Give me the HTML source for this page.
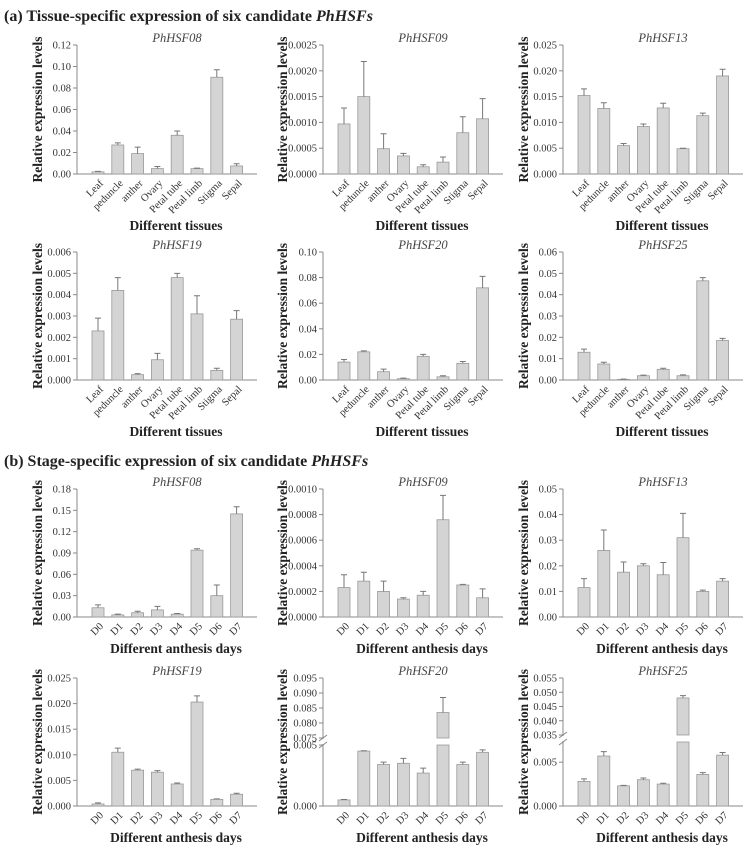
<!DOCTYPE html>
<html><head><meta charset="utf-8">
<style>
html,body{margin:0;padding:0;background:#fff;}
svg{display:block;font-family:"Liberation Serif",serif;}
.tk{font-size:10.5px;fill:#333;}
.tt{font-size:12.5px;font-style:italic;fill:#444;}
.ax{font-size:13.5px;font-weight:bold;fill:#222;}
.hd{font-size:16px;font-weight:bold;fill:#222;}
</style></head>
<body>
<svg id="fig" width="753" height="846" viewBox="0 0 753 846" xmlns="http://www.w3.org/2000/svg">
<text class="hd" x="4" y="21">(a) Tissue-specific expression of six candidate <tspan font-style="italic">PhHSFs</tspan></text>
<text class="hd" x="4" y="466">(b) Stage-specific expression of six candidate <tspan font-style="italic">PhHSFs</tspan></text>
</svg>
<script>
const tissues=["Leaf","peduncle","anther","Ovary","Petal tube","Petal limb","Stigma","Sepal"];
const days=["D0","D1","D2","D3","D4","D5","D6","D7"];
// Tissue panels
const t08Vals=[0.002,0.027,0.019,0.005,0.036,0.005,0.090,0.0075];
const t08Errs=[0.0005,0.002,0.006,0.002,0.004,0.0005,0.007,0.002];
const t08Ticks=[0,0.02,0.04,0.06,0.08,0.10,0.12];
const t09Vals=[0.00097,0.0015,0.00049,0.00035,0.00014,0.00023,0.0008,0.00107];
const t09Errs=[0.00031,0.00068,0.00029,0.00005,0.00004,0.0001,0.00031,0.00039];
const t09Ticks=[0,0.0005,0.0010,0.0015,0.0020,0.0025];
const t13Vals=[0.0152,0.0127,0.0055,0.0092,0.0128,0.0049,0.0113,0.019];
const t13Errs=[0.0013,0.0011,0.0004,0.0005,0.0009,0.0001,0.0005,0.0013];
const t13Ticks=[0,0.005,0.010,0.015,0.020,0.025];
const t19Vals=[0.0023,0.0042,0.00025,0.00095,0.0048,0.0031,0.00045,0.00285];
const t19Errs=[0.0006,0.0006,0.00005,0.0003,0.0002,0.00085,0.0001,0.0004];
const t19Ticks=[0,0.001,0.002,0.003,0.004,0.005,0.006];
const t20Vals=[0.014,0.022,0.0065,0.001,0.0185,0.0025,0.013,0.072];
const t20Errs=[0.002,0.0008,0.002,0.0005,0.0015,0.0008,0.0015,0.009];
const t20Ticks=[0,0.02,0.04,0.06,0.08,0.10];
const t25Vals=[0.013,0.0075,0.0003,0.002,0.005,0.002,0.0465,0.0185];
const t25Errs=[0.0015,0.0008,0.0001,0.0003,0.0005,0.0004,0.0015,0.001];
const t25Ticks=[0,0.01,0.02,0.03,0.04,0.05,0.06];
// Stage panels
const s08Vals=[0.013,0.003,0.006,0.01,0.004,0.094,0.03,0.145];
const s08Errs=[0.004,0.001,0.002,0.005,0.001,0.002,0.015,0.01];
const s08Ticks=[0,0.03,0.06,0.09,0.12,0.15,0.18];
const s09Vals=[0.00023,0.00028,0.0002,0.00014,0.00017,0.00076,0.00025,0.00015];
const s09Errs=[0.0001,0.00007,0.00008,0.00001,0.00003,0.00019,0.000005,0.00007];
const s09Ticks=[0,0.0002,0.0004,0.0006,0.0008,0.0010];
const s13Vals=[0.0115,0.026,0.0175,0.020,0.0165,0.031,0.010,0.014];
const s13Errs=[0.0035,0.008,0.004,0.0008,0.0048,0.0095,0.0005,0.001];
const s13Ticks=[0,0.01,0.02,0.03,0.04,0.05];
const s19Vals=[0.0004,0.0105,0.007,0.0066,0.0043,0.0203,0.0013,0.0023];
const s19Errs=[0.0002,0.0008,0.0002,0.0003,0.0002,0.0012,0.0001,0.0002];
const s19Ticks=[0,0.005,0.010,0.015,0.020,0.025];
const s20Vals=[0.0005,0.0045,0.0034,0.0035,0.0027,0.0835,0.0034,0.0044];
const s20Errs=[0.00003,0.00003,0.0002,0.0004,0.0004,0.005,0.0002,0.0002];
const s20LowTicks=[0,0.005];
const s20HighTicks=[0.075,0.080,0.085,0.090,0.095];
const s25Vals=[0.0028,0.0057,0.0023,0.003,0.0025,0.048,0.0036,0.0058];
const s25Errs=[0.0003,0.0005,0.00005,0.0002,0.0001,0.0008,0.0002,0.0003];
const s25LowTicks=[0,0.005];
const s25HighTicks=[0.035,0.040,0.045,0.050,0.055];

const NS="http://www.w3.org/2000/svg";
const svg=document.getElementById('fig');
function mk(tag,attrs,parent){const e=document.createElementNS(NS,tag);for(const k in attrs)e.setAttribute(k,attrs[k]);(parent||svg).appendChild(e);return e;}

const colX=[77,323,563];
const colYLab=[37,282,523];
const rows=[{top:45,bot:174},{top:252,bot:380},{top:489,bot:617},{top:678,bot:806}];
const W=180;

function panel(o){
  const ax=colX[o.col], r=rows[o.row], top=r.top, bot=r.bot;
  const g=mk('g',{});
  
  
  // y scale
  let y, lowTop=top;
  if(o.brk){
    lowTop=o.brk.lowTopPx;
    const hiBot=lowTop-7;
    const lmax=o.brk.lowMax, hmin=o.brk.hiMin, hmax=o.brk.hiMax;
    y=function(v){ if(v<=lmax) return bot-(v/lmax)*(bot-lowTop); return hiBot-(v-hmin)/(hmax-hmin)*(hiBot-top);};
    o.brk.hiBot=hiBot;
  } else {
    const mx=o.ticks[o.ticks.length-1];
    y=v=>bot-v/mx*(bot-top);
  }
  // axes
  const yl=mk('line',{x1:ax,y1:top,x2:ax,y2:bot,stroke:'#888','stroke-width':1},g);
  
  const xl=mk('line',{x1:ax,y1:bot,x2:ax+W,y2:bot,stroke:'#888','stroke-width':1},g);
  
  const ticks=o.brk?o.brk.low.concat(o.brk.high):o.ticks;
  ticks.forEach(t=>{
    const ty=y(t);
    mk('line',{x1:ax-4,y1:ty,x2:ax,y2:ty,stroke:'#888'},g);
    const tx=mk('text',{x:ax-6,y:ty+3.5,'text-anchor':'end',class:'tk'},g);
    tx.textContent=t.toFixed(o.dec);
    
    
  });
  if(o.brk){
    // white gap on axis and slash marks
    mk('rect',{x:ax-2,y:o.brk.hiBot+1,width:4,height:lowTop-o.brk.hiBot-2,fill:'#fff'},g);
    mk('line',{x1:ax-4,y1:o.brk.hiBot+3,x2:ax+4,y2:o.brk.hiBot-3,stroke:'#888'},g);
    mk('line',{x1:ax-4,y1:lowTop+3,x2:ax+4,y2:lowTop-3,stroke:'#888'},g);
  }
  const step=19.8, bw=12;
  o.cats.forEach((c,i)=>{
    const cx=ax+21+i*step, v=o.vals[i], e=o.errs[i];
    if(o.brk && v>o.brk.lowMax){
      const b1=mk('rect',{x:cx-bw/2,y:lowTop,width:bw,height:bot-lowTop,fill:'#d4d4d4',stroke:'#9a9a9a','stroke-width':0.8},g);
      
      
      const b2=mk('rect',{x:cx-bw/2,y:y(v),width:bw,height:o.brk.hiBot-y(v),fill:'#d4d4d4',stroke:'#9a9a9a','stroke-width':0.8},g);
      
      
    } else {
      const b=mk('rect',{x:cx-bw/2,y:y(v),width:bw,height:bot-y(v),fill:'#d4d4d4',stroke:'#9a9a9a','stroke-width':0.8},g);
      
      
    }
    const ye=y(v+e);
    const eb=mk('path',{d:`M${cx} ${y(v)}V${ye}M${cx-3} ${ye}H${cx+3}`,stroke:'#777',fill:'none','stroke-width':1},g);
    
    
    const lx=cx+3, ly=bot+7;
    const t=mk('text',{x:lx,y:ly+4,'text-anchor':'end',class:'tk',transform:`rotate(-45 ${lx} ${ly})`},g);
    t.textContent=c;
    
    
  });
  const tt=mk('text',{x:ax+W/2+10,y:top-3,'text-anchor':'middle',class:'tt'},g);
  tt.textContent=o.title;
  
  
  const yc=(top+bot)/2, yx=colYLab[o.col];
  const yt=mk('text',{x:yx,y:yc,'text-anchor':'middle',class:'ax',transform:`rotate(-90 ${yx} ${yc})`,dy:'5'},g);
  yt.textContent='Relative expression levels';
  
  
  const xt=mk('text',{x:ax+W/2+9,y:bot+(o.row<2?56:36),'text-anchor':'middle',class:'ax'},g);
  xt.textContent=o.row<2?'Different tissues':'Different anthesis days';
  
  
}

panel({name:'panel-a-phhsf08',title:'PhHSF08',col:0,row:0,cats:tissues,vals:t08Vals,errs:t08Errs,ticks:t08Ticks,dec:2});
panel({name:'panel-a-phhsf09',title:'PhHSF09',col:1,row:0,cats:tissues,vals:t09Vals,errs:t09Errs,ticks:t09Ticks,dec:4});
panel({name:'panel-a-phhsf13',title:'PhHSF13',col:2,row:0,cats:tissues,vals:t13Vals,errs:t13Errs,ticks:t13Ticks,dec:3});
panel({name:'panel-a-phhsf19',title:'PhHSF19',col:0,row:1,cats:tissues,vals:t19Vals,errs:t19Errs,ticks:t19Ticks,dec:3});
panel({name:'panel-a-phhsf20',title:'PhHSF20',col:1,row:1,cats:tissues,vals:t20Vals,errs:t20Errs,ticks:t20Ticks,dec:2});
panel({name:'panel-a-phhsf25',title:'PhHSF25',col:2,row:1,cats:tissues,vals:t25Vals,errs:t25Errs,ticks:t25Ticks,dec:2});
panel({name:'panel-b-phhsf08',title:'PhHSF08',col:0,row:2,cats:days,vals:s08Vals,errs:s08Errs,ticks:s08Ticks,dec:2});
panel({name:'panel-b-phhsf09',title:'PhHSF09',col:1,row:2,cats:days,vals:s09Vals,errs:s09Errs,ticks:s09Ticks,dec:4});
panel({name:'panel-b-phhsf13',title:'PhHSF13',col:2,row:2,cats:days,vals:s13Vals,errs:s13Errs,ticks:s13Ticks,dec:2});
panel({name:'panel-b-phhsf19',title:'PhHSF19',col:0,row:3,cats:days,vals:s19Vals,errs:s19Errs,ticks:s19Ticks,dec:3});
panel({name:'panel-b-phhsf20',title:'PhHSF20',col:1,row:3,cats:days,vals:s20Vals,errs:s20Errs,dec:3,
  brk:{low:s20LowTicks,high:s20HighTicks,lowMax:0.005,hiMin:0.075,hiMax:0.095,lowTopPx:745}});
panel({name:'panel-b-phhsf25',title:'PhHSF25',col:2,row:3,cats:days,vals:s25Vals,errs:s25Errs,dec:3,
  brk:{low:s25LowTicks,high:s25HighTicks,lowMax:0.0073,hiMin:0.035,hiMax:0.055,lowTopPx:742}});
</script>
</body></html>
